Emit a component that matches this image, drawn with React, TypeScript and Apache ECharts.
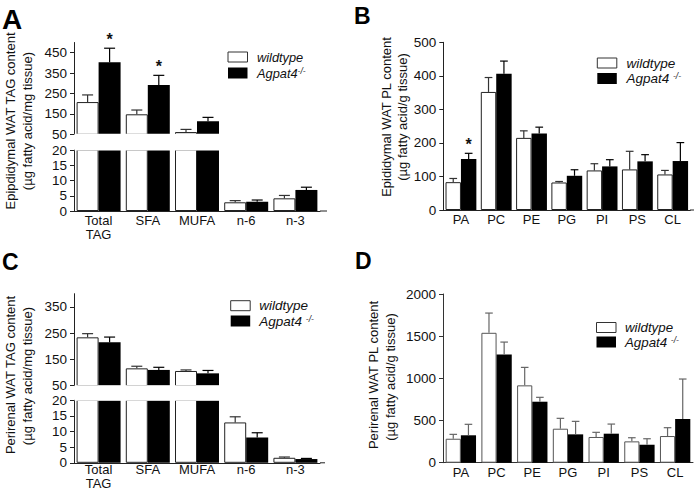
import React, { useEffect, useRef } from "react";
import * as echarts from "echarts";

// ---------- data ----------
const tagCats = ["Total\nTAG", "SFA", "MUFA", "n-6", "n-3"];
const plCats = ["PA", "PC", "PE", "PG", "PI", "PS", "CL"];

// Panel A: epididymal WAT TAG (µg fatty acid/mg tissue)
const aWild = [208, 148, 61, 2.85, 4.15];
const aWildErr = [35, 21, 13, 0.55, 0.95];
const aKO = [403, 292, 114, 3.05, 6.9];
const aKOErr = [69, 47, 19, 0.55, 0.9];
const aSig = [1, 1, 0, 0, 0];

// Panel B: epididymal WAT PL (µg fatty acid/g tissue)
const bWild = [83, 352, 215, 82, 118, 121, 106];
const bWildErr = [11, 43, 21, 3, 20, 54, 12];
const bKO = [152, 406, 228, 102, 130, 145, 146];
const bKOErr = [17, 38, 19, 18, 20, 20, 55];
const bSig = [1, 0, 0, 0, 0, 0, 0];

// Panel C: perirenal WAT TAG
const cWild = [234, 116, 106, 12.9, 1.6];
const cWildErr = [14, 8, 4, 1.8, 0.25];
const cKO = [215, 110, 97, 8.1, 1.2];
const cKOErr = [20, 10, 11, 1.5, 0.2];
const cSig = [0, 0, 0, 0, 0];

// Panel D: perirenal WAT PL
const dWild = [284, 1540, 917, 403, 305, 253, 316];
const dWildErr = [52, 234, 213, 123, 55, 43, 99];
const dKO = [325, 1284, 723, 336, 344, 213, 518];
const dKOErr = [130, 146, 52, 154, 114, 71, 474];
const dSig = [0, 0, 0, 0, 0, 0, 0];

// axis ticks
const aUpperTicks = [50, 150, 250, 350, 450];
const cUpperTicks = [50, 150, 250, 350];

const FONT = "'Liberation Sans', Arial, Helvetica, sans-serif";
const TXT = "#111";

function buildOption() {
  const grids = [
    { left: 74, top: 42.5, width: 246, height: 91.8 }, // A upper
    { left: 74, top: 150, width: 246, height: 61 }, // A lower
    { left: 443.3, top: 42.3, width: 247, height: 167.7 }, // B
    { left: 74, top: 293.7, width: 246, height: 92 }, // C upper
    { left: 74, top: 400.2, width: 246, height: 62.6 }, // C lower
    { left: 443, top: 294, width: 250, height: 168.7 }, // D
  ].map((g) => ({ ...g, outerBoundsMode: "none", containLabel: false }));

  const xLabelStyle = { fontSize: 13, color: TXT, fontFamily: FONT };
  const yLabelStyle = { fontSize: 13.5, color: TXT, fontFamily: FONT };

  const xAxis: any[] = [];
  const yAxis: any[] = [];

  const addX = (gi: number, cats: string[], show: boolean, color: string, margin = 3, lh = 13.5) => {
    xAxis.push({
      gridIndex: gi,
      type: "category",
      data: cats,
      show,
      axisTick: { show: false },
      axisLine: { show: true, onZero: false, lineStyle: { color, width: 1 } },
      axisLabel: { ...xLabelStyle, margin, lineHeight: lh, interval: 0 },
      splitLine: { show: false },
    });
  };
  const addY = (gi: number, min: number, max: number, ticks: number[] | null, interval: number | null, color: string) => {
    const y: any = {
      gridIndex: gi,
      type: "value",
      min,
      max,
      axisLine: { show: true, lineStyle: { color, width: 1 } },
      axisTick: { show: true, length: 4, lineStyle: { color } },
      axisLabel: { ...yLabelStyle, margin: 7, formatter: (v: number) => String(v) },
      splitLine: { show: false },
    };
    if (ticks) {
      y.axisLabel.customValues = ticks;
      y.axisTick.customValues = ticks;
    }
    if (interval) y.interval = interval;
    yAxis.push(y);
  };

  addX(0, tagCats, false, "#222");
  addY(0, 50, 500, aUpperTicks, null, "#222");
  addX(1, tagCats, true, "#222");
  addY(1, 0, 20, null, 5, "#222");
  addX(2, plCats, true, "#222");
  addY(2, 0, 500, null, 100, "#222");
  addX(3, tagCats, false, "#222");
  addY(3, 50, 400, cUpperTicks, null, "#222");
  addX(4, tagCats, true, "#222", 0, 13.5);
  addY(4, 0, 20, null, 5, "#222");
  addX(5, plCats, true, "#333");
  addY(5, 0, 2000, null, 500, "#333");

  const series: any[] = [];

  const addPanel = (
    gi: number,
    wild: number[],
    wildErr: number[],
    ko: number[],
    koErr: number[],
    sig: number[],
    bw: number,
    lo: number,
    hi: number,
    border: string,
    errWild: string,
    errKO: string
  ) => {
    series.push({
      type: "bar",
      name: "wildtype",
      xAxisIndex: gi,
      yAxisIndex: gi,
      data: wild,
      barWidth: bw * 100 + "%",
      barGap: "0%",
      clip: true,
      itemStyle: { color: "#fff", borderColor: border, borderWidth: 1 },
      z: 2,
    });
    series.push({
      type: "bar",
      name: "Agpat4",
      xAxisIndex: gi,
      yAxisIndex: gi,
      data: ko,
      barWidth: bw * 100 + "%",
      barGap: "0%",
      clip: true,
      itemStyle: { color: "#000", borderColor: "#000", borderWidth: 0 },
      z: 2,
    });
    const mkErr = (means: number[], errs: number[], side: number, color: string, withSig: boolean) => ({
      type: "custom",
      xAxisIndex: gi,
      yAxisIndex: gi,
      z: 5,
      silent: true,
      data: means.map((m, i) => [i, m, errs[i], withSig ? sig[i] : 0]),
      encode: { x: 0, y: 1 },
      renderItem: (params: any, api: any) => {
        const ci = api.value(0);
        const m = api.value(1);
        const e = api.value(2);
        const s = api.value(3);
        if (m < lo || m > hi) return null;
        const band = api.size([1, 0])[0];
        const c = api.coord([ci, m]);
        const t = api.coord([ci, m + e]);
        const x = c[0] + (side * band * bw) / 2;
        const half = (band * bw * 0.5) / 2;
        const children: any[] = [
          { type: "line", shape: { x1: x, y1: c[1], x2: x, y2: t[1] }, style: { stroke: color, lineWidth: 1.2 } },
          { type: "line", shape: { x1: x - half, y1: t[1], x2: x + half, y2: t[1] }, style: { stroke: color, lineWidth: 1.2 } },
        ];
        if (s) {
          children.push({
            type: "text",
            x,
            y: t[1] - 9,
            style: {
              text: "*",
              fill: TXT,
              fontSize: 16,
              fontWeight: "bold",
              fontFamily: FONT,
              align: "center",
              verticalAlign: "middle",
              textAlign: "center",
              textVerticalAlign: "middle",
            },
          });
        }
        return { type: "group", children };
      },
    });
    series.push(mkErr(wild, wildErr, -1, errWild, false));
    series.push(mkErr(ko, koErr, 1, errKO, true));
  };

  addPanel(0, aWild, aWildErr, aKO, aKOErr, aSig, 0.447, 50, 500, "#222", "#333", "#000");
  addPanel(1, aWild, aWildErr, aKO, aKOErr, aSig, 0.447, 0, 20, "#222", "#333", "#000");
  addPanel(2, bWild, bWildErr, bKO, bKOErr, bSig, 0.437, 0, 500, "#222", "#333", "#000");
  addPanel(3, cWild, cWildErr, cKO, cKOErr, cSig, 0.447, 50, 400, "#222", "#333", "#000");
  addPanel(4, cWild, cWildErr, cKO, cKOErr, cSig, 0.447, 0, 20, "#222", "#333", "#000");
  addPanel(5, dWild, dWildErr, dKO, dKOErr, dSig, 0.425, 0, 2000, "#555", "#666", "#666");

  // ---------- graphics: titles, legends, panel letters, break covers ----------
  const g: any[] = [];
  const txt = (x: number, y: number, text: string, extra: any = {}, rot = 0) => ({
    type: "text",
    x,
    y,
    rotation: rot,
    z: 120,
    style: {
      text,
      fill: TXT,
      fontFamily: FONT,
      fontSize: 13,
      align: "center",
      verticalAlign: "middle",
      textAlign: "center",
      textVerticalAlign: "middle",
      ...extra,
    },
  });
  const R = Math.PI / 2;

  // y-axis titles
  g.push(txt(10, 121, "Epipdidymal WAT TAG content", {}, R));
  g.push(txt(27, 121, "(µg fatty acid/mg tissue)", {}, R));
  g.push(txt(386.7, 117, "Epididymal WAT PL content", {}, R));
  g.push(txt(402, 117, "(µg fatty acid/g tissue)", {}, R));
  g.push(txt(10, 375, "Perirenal WAT TAG content", {}, R));
  g.push(txt(27, 376, "(µg fatty acid/mg tissue)", {}, R));
  g.push(txt(373.3, 375, "Perirenal WAT PL content", {}, R));
  g.push(txt(390, 377, "(µg fatty acid/g tissue)", {}, R));

  // panel letters
  const letter = (x: number, y: number, t: string, size: number) =>
    txt(x, y, t, { fontSize: size, fontWeight: "bold", align: "left", textAlign: "left", fill: "#000" });
  g.push(letter(2, 19, "A", 28));
  g.push(letter(354, 15.5, "B", 23));
  g.push(letter(2, 262, "C", 23));
  g.push(letter(355, 261, "D", 23));

  // legends
  const legend = (bx: number, wy: number, ky: number, tx: number, size: number, sep: string) => {
    g.push({
      type: "rect",
      z: 120,
      shape: { x: bx, y: wy - 5, width: 19.5, height: 10 },
      style: { fill: "#fff", stroke: "#333", lineWidth: 1 },
    });
    g.push({
      type: "rect",
      z: 120,
      shape: { x: bx, y: ky - 5.5, width: 19.5, height: 11 },
      style: { fill: "#000" },
    });
    g.push(txt(tx, wy, "wildtype", { fontSize: size, fontStyle: "italic", align: "left", textAlign: "left" }));
    g.push(
      txt(tx, ky, "{n|Agpat4" + sep + "}{s|-/-}", {
        align: "left",
        textAlign: "left",
        rich: {
          n: { fontSize: size, fontStyle: "italic", fontFamily: FONT, fill: TXT, color: TXT },
          s: { fontSize: 8.5, fontStyle: "italic", fontFamily: FONT, verticalAlign: "top", fill: TXT, color: TXT },
        },
      })
    );
  };
  legend(228, 57, 73, 257, 12.8, "");
  legend(597.3, 63, 78.5, 626.5, 13.5, " ");
  legend(230.7, 305.7, 321, 259.3, 13.5, " ");
  legend(596.5, 327.5, 342, 625, 13.3, " ");

  // covers hiding clipped bar edges at axis breaks
  g.push({ type: "rect", z: 110, shape: { x: 74.6, y: 133.8, width: 250, height: 16.8 }, style: { fill: "#fff" } });
  g.push({ type: "rect", z: 110, shape: { x: 74.6, y: 385.2, width: 250, height: 15.6 }, style: { fill: "#fff" } });

  // x-axis line extensions past last band
  g.push({ type: "line", z: 110, shape: { x1: 320, y1: 211, x2: 327, y2: 211 }, style: { stroke: "#222", lineWidth: 1 } });
  g.push({ type: "line", z: 110, shape: { x1: 320, y1: 462.8, x2: 325, y2: 462.8 }, style: { stroke: "#222", lineWidth: 1 } });
  g.push({ type: "line", z: 110, shape: { x1: 690, y1: 210, x2: 694, y2: 210 }, style: { stroke: "#222", lineWidth: 1 } });

  return {
    animation: false,
    backgroundColor: "#fff",
    grid: grids,
    xAxis,
    yAxis,
    series,
    graphic: { elements: g },
  };
}

export default function App() {
  const ref = useRef<HTMLDivElement>(null);
  useEffect(() => {
    const chart = echarts.init(ref.current as HTMLDivElement, null, { renderer: "svg" });
    chart.setOption(buildOption() as any);
    return () => chart.dispose();
  }, []);
  return (
    <div
      ref={ref}
      style={{ position: "fixed", left: 0, top: 0, width: 697, height: 492, background: "#fff" }}
    />
  );
}
